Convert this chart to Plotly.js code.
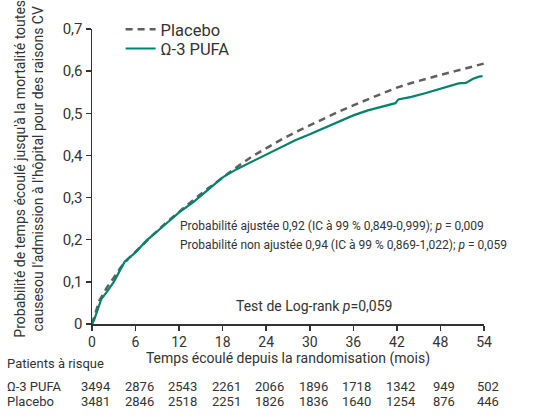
<!DOCTYPE html>
<html><head><meta charset="utf-8">
<script src="https://cdn.plot.ly/plotly-3.0.1.min.js"></script>
<style>body{margin:0;background:#fff}#c{width:542px;height:418px}</style>
</head><body><div id="c"></div>
<script>
// Data
var placeboT = [0,0.5,1,2,3,4,5,6,8,10,12,14,16,18,20,22,24,26,28,30,32,34,36,38,40,42,44,46,48,50,52,54];
var placeboY = [0,0.03,0.055,0.085,0.11,0.135,0.155,0.172,0.205,0.237,0.267,0.295,0.322,0.348,0.373,0.397,0.418,0.437,0.455,0.472,0.488,0.504,0.519,0.533,0.547,0.561,0.572,0.582,0.591,0.600,0.609,0.618];
var pufaT = [0,0.3,1.3,2,3,4.5,6,7.5,10,12,14,16,18,20,22,24,26,28,30,32,34,36,38,40,41.8,42.2,44,46,48,49.5,50.5,51.5,52.5,53.3,53.8];
var pufaY = [0,0.01,0.06,0.075,0.1,0.148,0.17,0.198,0.235,0.265,0.29,0.318,0.348,0.368,0.385,0.402,0.42,0.436,0.45,0.465,0.479,0.495,0.507,0.516,0.524,0.533,0.539,0.548,0.558,0.566,0.571,0.572,0.582,0.587,0.588];
var xTicks = [0,6,12,18,24,30,36,42,48,54];
var yTickVals = [0,0.1,0.2,0.3,0.4,0.5,0.6,0.7];
var yTickText = ['0','0,1','0,2','0,3','0,4','0,5','0,6','0,7'];
var riskPufa = [3494,2876,2543,2261,2066,1896,1718,1342,949,502];
var riskPlacebo = [3481,2846,2518,2251,1826,1836,1640,1254,876,446];
var seriesNames = ['Placebo','Ω-3 PUFA'];

var FONT = 'Roboto, sans-serif';
var TXT = '#333333';
var XMAX = 54;

var traces = [
  {x: placeboT, y: placeboY, name: seriesNames[0], legend:'legend', mode:'lines', line:{color:'#5f5f5f', width:2.5, dash:'7px,5px'}},
  {x: pufaT, y: pufaY, name: seriesNames[1], legend:'legend2', mode:'lines', line:{color:'#00836b', width:2.2}}
];

var ann = [];
var rowY = [-0.134, -0.211, -0.264];
var rf = {family:FONT, size:13, color:TXT};
ann.push({xref:'paper', yref:'paper', x:-0.222, y:rowY[0], xanchor:'left', yanchor:'middle', text:'Patients à risque', showarrow:false, font:rf});
ann.push({xref:'paper', yref:'paper', x:-0.222, y:rowY[1], xanchor:'left', yanchor:'middle', text:seriesNames[1], showarrow:false, font:rf});
ann.push({xref:'paper', yref:'paper', x:-0.222, y:rowY[2], xanchor:'left', yanchor:'middle', text:seriesNames[0], showarrow:false, font:rf});
for (var i=0;i<xTicks.length;i++){
  var px = (xTicks[i]+0.5)/XMAX;
  ann.push({xref:'paper', yref:'paper', x:px, y:rowY[1], xanchor:'center', yanchor:'middle', text:String(riskPufa[i]), showarrow:false, font:rf});
  ann.push({xref:'paper', yref:'paper', x:px, y:rowY[2], xanchor:'center', yanchor:'middle', text:String(riskPlacebo[i]), showarrow:false, font:rf});
}
ann.push({xref:'x', yref:'y', x:11.9, y:0.232, xanchor:'left', yanchor:'middle', showarrow:false, text:'Probabilité ajustée 0,92 (IC à 99 % 0,849-0,999); <i>p</i> = 0,009', font:{family:FONT, size:12, color:TXT}});
ann.push({xref:'x', yref:'y', x:11.9, y:0.187, xanchor:'left', yanchor:'middle', showarrow:false, text:'Probabilité non ajustée 0,94 (IC à 99 % 0,869-1,022); <i>p</i> = 0,059', font:{family:FONT, size:12, color:TXT}});
ann.push({xref:'x', yref:'y', x:19.6, y:0.042, xanchor:'left', yanchor:'middle', showarrow:false, text:'Test de Log-rank <i>p</i>=0,059', font:{family:FONT, size:14, color:TXT}});
// y-axis title (two lines, rotated)
ann.push({xref:'paper', yref:'paper', x:-0.163, y:0.527, xanchor:'center', yanchor:'middle', textangle:-90, showarrow:false,
  text:'Probabilité de temps écoulé jusqu\'à la mortalité toutes<br>causesou l\'admission à l\'hôpital pour des raisons CV', font:{family:FONT, size:14, color:TXT}});

var legFont = {family:FONT, size:16.5, color:TXT};
var layout = {
  width:542, height:418,
  margin:{l:92, r:58, t:25, b:94},
  paper_bgcolor:'#fff', plot_bgcolor:'#fff',
  font:{family:FONT, color:TXT},
  showlegend:true,
  legend:{x:0.073, y:0.998, xanchor:'left', yanchor:'middle', bgcolor:'rgba(0,0,0,0)', font:legFont, itemwidth:30},
  legend2:{x:0.073, y:0.933, xanchor:'left', yanchor:'middle', bgcolor:'rgba(0,0,0,0)', font:legFont, itemwidth:30},
  xaxis:{range:[0,XMAX], tickvals:xTicks, ticktext:xTicks.map(String), showgrid:false, zeroline:false, showline:true, linecolor:'#333', linewidth:1.5, ticks:'outside', ticklen:5, tickcolor:'#333', tickwidth:1.5, tickfont:{family:FONT, size:14, color:TXT},
    title:{text:'Temps écoulé depuis la randomisation (mois)', font:{family:FONT, size:14, color:TXT}, standoff:2}},
  yaxis:{range:[0,0.7], tickvals:yTickVals, ticktext:yTickText, showgrid:false, zeroline:false, showline:true, linecolor:'#333', linewidth:1.5, ticks:'outside', ticklen:5, tickcolor:'#333', tickwidth:1.5, tickfont:{family:FONT, size:15, color:TXT}},
  annotations: ann
};
Plotly.newPlot('c', traces, layout, {displayModeBar:false, staticPlot:true});
</script></body></html>
